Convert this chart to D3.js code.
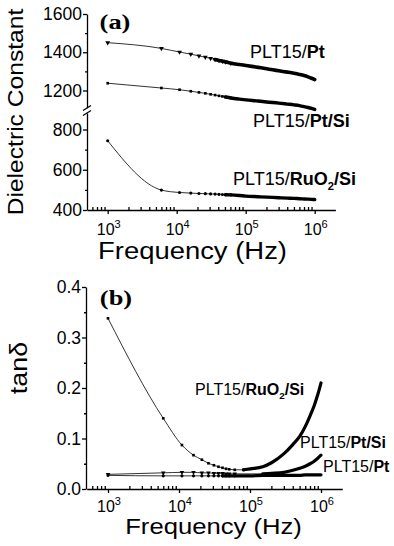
<!DOCTYPE html>
<html><head><meta charset="utf-8">
<script src="https://cdn.jsdelivr.net/npm/d3@7"></script>
<style>
html,body{margin:0;padding:0;background:#fff;}
svg{display:block;font-family:"Liberation Sans",Arial,Helvetica,sans-serif;}
</style></head><body>
<svg id="chart" width="394" height="546"></svg>
<script>
// Measurement frequencies (Hz), shared by all series
const freqHz = [1e3, 6e3, 11e3, 16e3, 21e3, 26e3, 31e3, 36e3, 41e3, 46e3, 51e3, 61e3, 81e3,
  101e3, 151e3, 201e3, 301e3, 401e3, 501e3, 601e3, 701e3, 801e3, 901e3, 1e6];

// (a) dielectric constant
const epsPt     = [1450, 1420, 1401, 1390, 1381, 1374, 1368, 1362, 1357, 1353, 1349, 1343, 1336,
  1331, 1321, 1314, 1303, 1296, 1290, 1284, 1278, 1271, 1264, 1257];
const epsPtSi   = [1238, 1213, 1204, 1196, 1190, 1185, 1180, 1176, 1172, 1169, 1166, 1161, 1155,
  1151, 1145, 1140, 1134, 1129, 1125, 1121, 1116, 1111, 1106, 1101];
const epsRuO2Si = [744, 499, 487, 484, 482, 481, 480, 479, 478, 477, 476, 475, 472,
  469, 466, 464, 461, 459, 458, 456, 455, 454, 453, 452];

// (b) loss tangent
const tanRuO2Si = [0.338, 0.140, 0.087, 0.067, 0.058, 0.051, 0.047, 0.044, 0.042, 0.040, 0.039, 0.038, 0.038,
  0.040, 0.044, 0.052, 0.070, 0.088, 0.104, 0.124, 0.145, 0.165, 0.187, 0.210];
const tanPtSi   = [0.029, 0.032, 0.033, 0.033, 0.032, 0.032, 0.031, 0.031, 0.031, 0.030, 0.030, 0.030, 0.030,
  0.030, 0.030, 0.031, 0.033, 0.037, 0.041, 0.045, 0.050, 0.055, 0.061, 0.067];
const tanPt     = [0.027, 0.026, 0.026, 0.026, 0.026, 0.026, 0.026, 0.026, 0.026, 0.026, 0.026, 0.026, 0.026,
  0.026, 0.027, 0.027, 0.027, 0.027, 0.027, 0.028, 0.028, 0.028, 0.028, 0.028];

// Tick labels
const epsTicksUpper = [1200, 1400, 1600];
const epsMinorUpper = [1300, 1500];
const epsTicksLower = [400, 600, 800];
const epsMinorLower = [500, 700];
const tanTicks = [0.0, 0.1, 0.2, 0.3, 0.4];
const tanMinor = [0.05, 0.15, 0.25, 0.35];
const decadeExponents = ["3", "4", "5", "6"];

const svg = d3.select("#chart");
const SERIF = '"Liberation Serif", "Times New Roman", Times, serif';

// ---------- scales ----------
const xA = d3.scaleLog().domain([10 ** 2.7, 10 ** 6.3]).range([87, 335.4]);
const xB = d3.scaleLog().domain([10 ** 2.7, 10 ** 6.3]).range([86.7, 342.3]);
// broken dielectric axis: two linear pieces
const yUp = d3.scaleLinear().domain([1110, 1600]).range([107.7, 14]);
const yLow = d3.scaleLinear().domain([400, 882]).range([210, 113]);
const yA = v => (v >= 1000 ? yUp(v) : yLow(v));
const yB = d3.scaleLinear().domain([0, 0.4]).range([489, 287]);

function minorDecades(scale) {
  const [a, b] = scale.domain();
  const out = [];
  for (let e = Math.floor(Math.log10(a)); e <= Math.ceil(Math.log10(b)); e++)
    for (let m = 2; m <= 9; m++) { const v = m * 10 ** e; if (v >= a && v <= b) out.push(v); }
  return out;
}

function styleAxis(g) {
  g.selectAll(".domain, .tick line").attr("stroke", "#000").attr("stroke-width", 1.3);
  g.selectAll("text").attr("fill", "#000");
}

function xAxis(x, y0, fs, supFs, labelDy, supDy) {
  const g = svg.append("g").attr("transform", `translate(0,${y0})`);
  const major = decadeExponents.map(e => 10 ** +e);
  g.call(d3.axisBottom(x).tickValues(major).tickSize(4).tickSizeOuter(0).tickFormat(""));
  g.append("g").call(d3.axisBottom(x).tickValues(minorDecades(x)).tickSize(-3).tickSizeOuter(0).tickFormat(""))
    .select(".domain").remove();
  styleAxis(g);
  decadeExponents.forEach(e => {
    const t = g.append("text").attr("x", x(10 ** +e) + 1).attr("y", labelDy)
      .attr("text-anchor", "middle").attr("font-size", fs).attr("fill", "#000");
    t.append("tspan").text("10");
    t.append("tspan").attr("dy", supDy).attr("font-size", supFs).text(e);
  });
}

function yAxis(scale, xPos, major, minor, fmt, fs) {
  const g = svg.append("g").attr("transform", `translate(${xPos},0)`);
  g.call(d3.axisLeft(scale).tickValues(major).tickSize(4).tickSizeOuter(0).tickPadding(1).tickFormat(fmt));
  g.append("g").call(d3.axisLeft(scale).tickValues(minor).tickSize(2).tickSizeOuter(0).tickFormat(""))
    .select(".domain").remove();
  g.selectAll("text").attr("font-size", fs);
  styleAxis(g);
  return g;
}

function drawSeries(x, y, vals, symbol, symSize, markUntil, thickFrom, thickW) {
  const pts = freqHz.map((f, i) => ({ f, v: vals[i] }));
  const line = d3.line().x(d => x(d.f)).y(d => y(d.v)).curve(d3.curveMonotoneX);
  svg.append("path").attr("d", line(pts)).attr("fill", "none").attr("stroke", "#000").attr("stroke-width", 0.8);
  svg.append("path").attr("d", line(pts.filter(d => d.f >= thickFrom)))
    .attr("fill", "none").attr("stroke", "#000").attr("stroke-width", thickW)
    .attr("stroke-linecap", "round").attr("stroke-linejoin", "round");
  svg.append("g").selectAll("path").data(pts.filter(d => d.f <= markUntil)).join("path")
    .attr("d", d3.symbol().type(symbol).size(symSize))
    .attr("transform", d => `translate(${x(d.f)},${y(d.v)})${symbol === d3.symbolTriangle ? " rotate(180)" : ""}`)
    .attr("fill", "#000");
}

function seriesLabel(x, y, fs, parts) {
  const t = svg.append("text").attr("x", x).attr("y", y).attr("font-size", fs).attr("fill", "#000");
  parts.forEach(p => {
    const s = t.append("tspan").text(p.t);
    if (p.b) s.attr("font-weight", "bold");
    if (p.sub) s.attr("font-size", fs * 0.62).attr("dy", fs * 0.28);
    if (p.up) s.attr("dy", -fs * 0.28);
  });
}

function stretchedText(x, y, fs, sx, rotate, str, weight, family) {
  const g = svg.append("g").attr("transform", `translate(${x},${y})${rotate ? " rotate(-90)" : ""} scale(${sx},1)`);
  const t = g.append("text").attr("text-anchor", "middle").attr("font-size", fs).attr("fill", "#000").text(str);
  if (weight) t.attr("font-weight", weight);
  if (family) t.attr("font-family", family);
  return t;
}

// ---------- panel (a) ----------
yAxis(yUp, 87, epsTicksUpper, epsMinorUpper, d3.format("d"), 17.5);
yAxis(yLow, 87, epsTicksLower, epsMinorLower, d3.format("d"), 17.5);
// axis break marks
[[110.5], [115.5]].forEach(([yy]) => {
  svg.append("line").attr("x1", 83).attr("y1", yy).attr("x2", 91).attr("y2", yy - 5)
    .attr("stroke", "#000").attr("stroke-width", 1.3);
});
xAxis(xA, 210, 16, 11, 25, -7);

drawSeries(xA, yA, epsPt, d3.symbolTriangle, 10, 61e3, 36e3, 3.6);
drawSeries(xA, yA, epsPtSi, d3.symbolSquare, 7, 61e3, 51e3, 3.4);
drawSeries(xA, yA, epsRuO2Si, d3.symbolCircle, 8, 61e3, 51e3, 3.4);

stretchedText(23, 112, 22, 1.12, true, "Dielectric Constant");
stretchedText(192.5, 259, 24.5, 1.12, false, "Frequency (Hz)");
stretchedText(115, 29, 22, 1.2, false, "(a)", "bold", SERIF);

seriesLabel(250, 58, 18, [{ t: "PLT15/" }, { t: "Pt", b: true }]);
seriesLabel(253, 127, 18, [{ t: "PLT15/" }, { t: "Pt/Si", b: true }]);
seriesLabel(233, 185, 18, [{ t: "PLT15/" }, { t: "RuO", b: true }, { t: "2", b: true, sub: true }, { t: "/Si", b: true, up: true }]);

// ---------- panel (b) ----------
yAxis(yB, 86, tanTicks, tanMinor, d3.format(".1f"), 17.5);
xAxis(xB, 489, 16, 11, 23, -7);

drawSeries(xB, yB, tanPt, d3.symbolCircle, 8, 61e3, 41e3, 3.2);
drawSeries(xB, yB, tanPtSi, d3.symbolTriangle, 9, 61e3, 151e3, 3.2);
drawSeries(xB, yB, tanRuO2Si, d3.symbolSquare, 7, 81e3, 81e3, 3.2);

stretchedText(27, 368, 24, 1.12, true, "tanδ");
stretchedText(213.5, 534, 22.5, 1.14, false, "Frequency (Hz)");
stretchedText(116, 305, 22, 1.2, false, "(b)", "bold", SERIF);

seriesLabel(195, 395, 16, [{ t: "PLT15/" }, { t: "RuO", b: true }, { t: "2", b: true, sub: true }, { t: "/Si", b: true, up: true }]);
seriesLabel(300, 448, 16, [{ t: "PLT15/" }, { t: "Pt/Si", b: true }]);
seriesLabel(323, 472, 16, [{ t: "PLT15/" }, { t: "Pt", b: true }]);
</script>
</body></html>
